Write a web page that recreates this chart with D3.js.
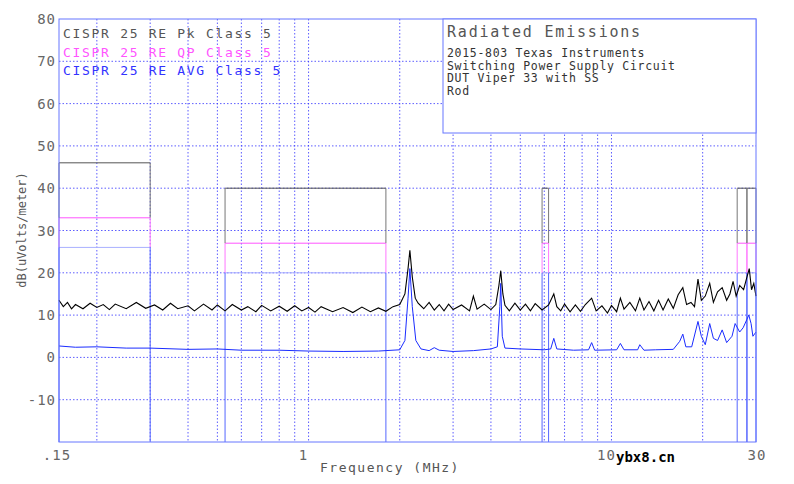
<!DOCTYPE html>
<html>
<head>
<meta charset="utf-8">
<script src="https://cdn.jsdelivr.net/npm/d3@7"></script>
<style>
  body { margin: 0; background: #fff; }
  text { font-family: "DejaVu Sans Mono", monospace; }
</style>
</head>
<body>
<svg id="chart" width="794" height="484"></svg>
<script>
// Limit bands: [fStart, fEnd, Pk, QP, AVG]
const limitBands = [
    [0.15, 0.3, 46, 33, 26],
    [0.53, 1.8, 40, 27, 20],
    [5.9, 6.2, 40, 27, 20],
    [26, 28, 40, 27, 20],
    [28, 30, 40, 27, 20]
];

const legendLabels = ["CISPR 25 RE Pk Class 5", "CISPR 25 RE QP Class 5", "CISPR 25 RE AVG Class 5"];
const legendColors = ["#555", "#ff55ff", "#3333ff"];
const infoLines = ["2015-803 Texas Instruments", "Switching Power Supply Circuit", "DUT Viper 33 with SS", "Rod"];

const yTicks = [80, 70, 60, 50, 40, 30, 20, 10, 0, -10];
const xTickVals = [0.15, 1, 10, 30];
const xTickLabels = [".15", "1", "10", "30"];

// Peak trace [MHz, dB]
const peakTrace = [
    [0.15,13.5],[0.155,12],[0.16,13],[0.165,11.5],[0.17,12.5],[0.18,11.5],[0.19,12.8],[0.2,11.8],[0.21,12.5],[0.22,11.3],
    [0.23,12.6],[0.25,11.5],[0.27,13],[0.29,11.6],[0.31,12.4],[0.33,11.2],[0.35,12.8],[0.37,11.5],[0.4,12.2],[0.42,11],
    [0.45,12.6],[0.48,11.2],[0.5,12.4],[0.53,11],[0.56,12.5],[0.6,11.2],[0.63,12],[0.67,10.8],[0.7,12.3],[0.75,11],
    [0.8,12.1],[0.85,10.9],[0.9,12.2],[0.95,11],[1.0,11.8],[1.05,10.7],[1.1,12],[1.2,10.8],[1.3,11.8],[1.4,10.6],
    [1.5,11.9],[1.6,10.8],[1.7,11.7],[1.8,10.9],[1.9,12],[2.0,12.5],[2.08,15],[2.13,21],[2.16,25.3],[2.2,19],
    [2.25,14],[2.3,12.8],[2.4,11.5],[2.5,13],[2.6,11.2],[2.7,12.5],[2.8,11],[2.9,12.6],[3.0,11.3],[3.2,12.4],
    [3.4,11],[3.5,14.5],[3.6,11.4],[3.8,12.6],[4.0,11.3],[4.15,12.5],[4.25,17],[4.31,20.5],[4.38,15],[4.45,12.3],
    [4.6,11],[4.8,12.8],[5.0,11.2],[5.2,12.6],[5.4,11],[5.6,12.7],[5.9,11.2],[6.2,12.4],[6.45,15],[6.6,12],
    [6.8,11],[7.0,12.6],[7.3,10.8],[7.6,12.4],[7.9,10.9],[8.2,12.5],[8.6,14],[8.9,11],[9.3,12.2],[9.7,10.5],
    [10,12.3],[10.4,10.8],[10.7,14],[11,11.4],[11.5,13],[12,11],[12.4,14],[12.8,11.2],[13.3,13.2],[13.8,11],
    [14.3,13.5],[14.8,11.2],[15.4,13.8],[16,11.6],[16.6,14.8],[17.2,16.5],[17.7,12.5],[18.3,13],[18.8,12],[19.3,18.5],
    [19.8,13.5],[20.4,14.5],[21.1,17.5],[21.7,13],[22.4,15.5],[23.2,16.5],[24,13.5],[24.6,15],[25.2,18],[25.8,14.5],
    [26.5,17],[27.3,16],[28.0,19],[28.5,21],[29,16],[29.5,17.5],[30,14.5]
];

// Average trace [MHz, dB]
const avgTrace = [
    [0.15,2.7],[0.17,2.4],[0.2,2.5],[0.25,2.2],[0.3,2.2],[0.4,1.9],[0.5,2],[0.6,1.7],[0.8,1.7],[1,1.5],
    [1.3,1.4],[1.7,1.5],[2.0,1.8],[2.08,4],[2.13,14],[2.16,21],[2.2,12],[2.26,4],[2.35,2],[2.5,1.6],
    [2.6,2.3],[2.7,1.7],[3,1.4],[3.5,1.6],[4.0,2],[4.2,2.5],[4.28,12],[4.31,17.5],[4.36,5],[4.45,2.2],
    [5,2],[6,1.8],[6.3,2],[6.45,4.5],[6.6,2],[7.5,1.7],[8.4,1.8],[8.6,3.5],[8.8,1.7],[10.4,1.8],
    [10.7,3.3],[11,1.8],[12.2,1.8],[12.4,3],[12.8,1.7],[14,1.8],[16,1.9],[16.8,3.8],[17.2,5.5],[17.6,2.5],
    [18.4,2.5],[19.3,8.5],[19.8,5],[20.4,3],[21.1,8],[21.7,4.5],[22.4,4],[23.2,6.5],[24,3.5],[25,5],
    [25.6,8],[26.5,6],[27.2,7],[28,9],[28.4,10],[28.9,8],[29.3,5],[30,6]
];

const svg = d3.select("#chart");
const plotLeft = 59, plotRight = 756, plotTop = 19, plotBottom = 442;

const x = d3.scaleLog().domain([0.15, 30]).range([plotLeft, plotRight]);
const y = d3.scaleLinear().domain([-20, 80]).range([plotBottom, plotTop]);

// minor vertical grid at 1..9 per decade
const gridX = [];
[0.1, 1, 10].forEach(dec => {
    for (let k = 1; k <= 9; k++) {
        const f = dec * k;
        if (f > 0.15 && f < 30) gridX.push(f);
    }
});

svg.append("g").selectAll("line").data(gridX).join("line")
    .attr("x1", d => x(d)).attr("x2", d => x(d))
    .attr("y1", plotTop).attr("y2", plotBottom)
    .attr("stroke", "#3333ff").attr("stroke-width", 0.8).attr("stroke-dasharray", "1.5,2");

svg.append("g").selectAll("line").data(d3.range(-10, 80, 10)).join("line")
    .attr("x1", plotLeft).attr("x2", plotRight)
    .attr("y1", d => y(d)).attr("y2", d => y(d))
    .attr("stroke", "#3333ff").attr("stroke-width", 0.8).attr("stroke-dasharray", "1.5,2");

// limit bands
const bands = svg.append("g");
limitBands.forEach(b => {
    const [f0, f1, pk, qp, avg] = b;
    const x0 = x(f0), x1 = x(f1);
    bands.append("line").attr("x1", x0).attr("x2", x1).attr("y1", y(pk)).attr("y2", y(pk)).attr("stroke", "#555");
    bands.append("line").attr("x1", x0).attr("x2", x1).attr("y1", y(qp)).attr("y2", y(qp)).attr("stroke", "#ff55ff");
    bands.append("line").attr("x1", x0).attr("x2", x1).attr("y1", y(avg)).attr("y2", y(avg)).attr("stroke", "#aab0ff");
    [x0, x1].forEach(xx => {
        bands.append("line").attr("x1", xx).attr("x2", xx).attr("y1", y(pk)).attr("y2", y(qp)).attr("stroke", "#777");
        bands.append("line").attr("x1", xx).attr("x2", xx).attr("y1", y(qp)).attr("y2", y(avg)).attr("stroke", "#ff77ff");
        bands.append("line").attr("x1", xx).attr("x2", xx).attr("y1", y(avg)).attr("y2", plotBottom).attr("stroke", "#5566ff");
    });
});

const line = d3.line().x(d => x(d[0])).y(d => y(d[1]));
svg.append("path").datum(avgTrace).attr("d", line)
    .attr("fill", "none").attr("stroke", "#1a2cff").attr("stroke-width", 1);
svg.append("path").datum(peakTrace).attr("d", line)
    .attr("fill", "none").attr("stroke", "#000").attr("stroke-width", 1.1);

// frame
svg.append("rect").attr("x", plotLeft).attr("y", plotTop).attr("width", plotRight - plotLeft).attr("height", plotBottom - plotTop)
    .attr("fill", "none").attr("stroke", "#6677ff").attr("stroke-width", 1);

// info box
svg.append("rect").attr("x", 443).attr("y", plotTop).attr("width", plotRight - 443).attr("height", 114)
    .attr("fill", "#fff").attr("stroke", "#6677ff");
svg.append("text").attr("x", 447).attr("y", 37).attr("font-size", 15).attr("letter-spacing", 1.8)
    .attr("fill", "#555").text("Radiated Emissions");
svg.append("g").selectAll("text").data(infoLines).join("text")
    .attr("x", 447).attr("y", (d, i) => 57 + i * 12.5).attr("letter-spacing", 0.7)
    .attr("font-size", 11.5).attr("fill", "#333").text(d => d);

// legend
svg.append("g").selectAll("text").data(legendLabels).join("text")
    .attr("x", 63).attr("y", (d, i) => 38 + i * 18.5).attr("letter-spacing", 1.7)
    .attr("font-size", 13).attr("fill", (d, i) => legendColors[i]).text(d => d);

// axes labels
svg.append("g").selectAll("text").data(yTicks).join("text")
    .attr("x", 56).attr("y", d => y(d) + 5).attr("text-anchor", "end").attr("letter-spacing", 1)
    .attr("font-size", 14).attr("fill", "#666").text(d => d);
svg.append("g").selectAll("text").data(xTickVals).join("text")
    .attr("x", (d, i) => x(d) + (i === 0 ? -2 : (i === 3 ? 1 : -5)))
    .attr("y", 460).attr("text-anchor", "middle").attr("letter-spacing", 1)
    .attr("font-size", 14).attr("fill", "#666").text((d, i) => xTickLabels[i]);

svg.append("text").attr("x", 390).attr("y", 472).attr("text-anchor", "middle").attr("letter-spacing", 1.5)
    .attr("font-size", 13).attr("fill", "#555").text("Frequency (MHz)");
svg.append("text").attr("transform", "translate(26,230) rotate(-90)").attr("text-anchor", "middle")
    .attr("font-size", 12).attr("fill", "#555").text("dB(uVolts/meter)");

svg.append("text").attr("x", 616).attr("y", 462).attr("font-size", 14).attr("font-weight", "bold")
    .attr("fill", "#000").attr("font-family", "DejaVu Sans").text("ybx8.cn");
</script>
</body>
</html>
